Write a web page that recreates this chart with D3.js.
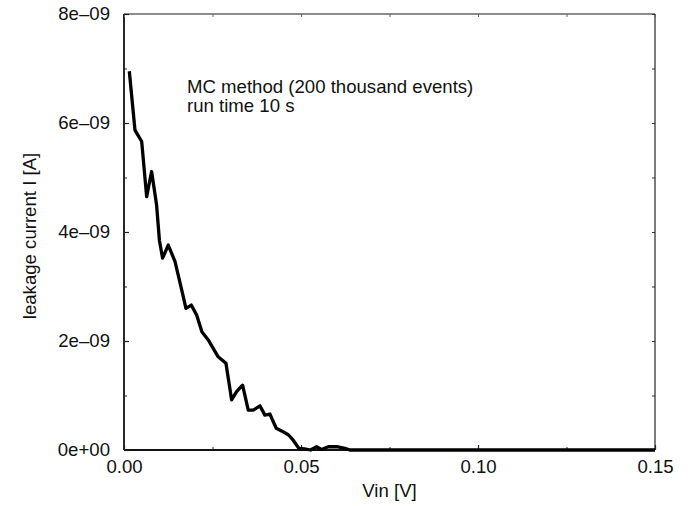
<!DOCTYPE html>
<html>
<head>
<meta charset="utf-8">
<script src="https://cdn.jsdelivr.net/npm/d3@7/dist/d3.min.js"></script>
<style>
  html, body { margin: 0; padding: 0; background: #fff; }
  svg { display: block; }
  text { font-family: "Liberation Sans", Arial, Helvetica, sans-serif; fill: #111; }
</style>
</head>
<body>
<svg id="chart" width="691" height="506"></svg>
<script>
// ---- data ----
const vin = [0.0015, 0.0031, 0.0050, 0.0064, 0.0078, 0.0092, 0.0100, 0.0109, 0.0125, 0.0144,
             0.0163, 0.0175, 0.0190, 0.0205, 0.0220, 0.0238, 0.0266, 0.0288, 0.0304, 0.0318,
             0.0335, 0.0351, 0.0365, 0.0384, 0.0398, 0.0412, 0.0430, 0.0445, 0.0464, 0.0478,
             0.0494, 0.0510, 0.0527, 0.0544, 0.0558, 0.0577, 0.0601, 0.0624, 0.0638, 0.0800,
             0.1000, 0.1200, 0.1500];
const leak = [6.95e-9, 5.87e-9, 5.66e-9, 4.65e-9, 5.11e-9, 4.50e-9, 3.85e-9, 3.52e-9, 3.76e-9, 3.46e-9,
              2.94e-9, 2.60e-9, 2.66e-9, 2.48e-9, 2.17e-9, 2.02e-9, 1.71e-9, 1.59e-9, 0.92e-9, 1.07e-9,
              1.19e-9, 0.73e-9, 0.73e-9, 0.81e-9, 0.64e-9, 0.66e-9, 0.40e-9, 0.35e-9, 0.28e-9, 0.18e-9,
              0.03e-9, 0.02e-9, 0.00e-9, 0.06e-9, 0.01e-9, 0.06e-9, 0.06e-9, 0.03e-9, 0.00e-9, 0.00e-9,
              0.00e-9, 0.00e-9, 0.00e-9];
const xTicks = [0, 0.05, 0.10, 0.15];
const xTickLabels = ["0.00", "0.05", "0.10", "0.15"];
const xMinor = [0.025, 0.075, 0.125];
const yTicks = [0, 2e-9, 4e-9, 6e-9, 8e-9];
const yTickLabels = ["0e+00", "2e\u201309", "4e\u201309", "6e\u201309", "8e\u201309"];
const yMinor = [1e-9, 3e-9, 5e-9, 7e-9];
const xTitle = "Vin [V]";
const yTitle = "leakage current I [A]";
const noteLines = ["MC method (200 thousand events)", "run time 10 s"];

// ---- layout ----
const L = 124, R = 655, T = 14, B = 450;
const svg = d3.select("#chart");
const x = d3.scaleLinear().domain([0, 0.15]).range([L, R]);
const y = d3.scaleLinear().domain([0, 8e-9]).range([B, T]);

const fs = "18.6px";

// frame: top and right lighter (as in scan), left and bottom dark
svg.append("line").attr("x1", L).attr("x2", R).attr("y1", T).attr("y2", T)
  .attr("stroke", "#666").attr("stroke-width", 1.3);
svg.append("line").attr("x1", R).attr("x2", R).attr("y1", T).attr("y2", B)
  .attr("stroke", "#444").attr("stroke-width", 1.4);
svg.append("line").attr("x1", L).attr("x2", L).attr("y1", T).attr("y2", B)
  .attr("stroke", "#111").attr("stroke-width", 1.8);
svg.append("line").attr("x1", L).attr("x2", R).attr("y1", B).attr("y2", B)
  .attr("stroke", "#111").attr("stroke-width", 1.8);

// bottom axis (inward ticks)
const xAxis = svg.append("g").attr("transform", `translate(0,${B})`)
  .call(d3.axisBottom(x).tickValues(xTicks).tickSize(-5).tickFormat((d, i) => xTickLabels[i]).tickSizeOuter(0));
xAxis.select(".domain").remove();
xAxis.selectAll(".tick line").attr("stroke", "#222").attr("stroke-width", 1.2);
xAxis.selectAll(".tick text").attr("y", 23).attr("dy", 0).style("font-size", fs).attr("fill", "#111");
const xAxisMinor = svg.append("g").attr("transform", `translate(0,${B})`)
  .call(d3.axisBottom(x).tickValues(xMinor).tickSize(-3).tickFormat(""));
xAxisMinor.select(".domain").remove();
xAxisMinor.selectAll(".tick line").attr("stroke", "#222");

// top axis ticks
const xTop = svg.append("g").attr("transform", `translate(0,${T})`)
  .call(d3.axisTop(x).tickValues(xTicks.concat(xMinor)).tickSize(-3).tickFormat(""));
xTop.select(".domain").remove();
xTop.selectAll(".tick line").attr("stroke", "#666");

// left axis
const yAxis = svg.append("g").attr("transform", `translate(${L},0)`)
  .call(d3.axisLeft(y).tickValues(yTicks).tickSize(-5).tickFormat((d, i) => yTickLabels[i]).tickSizeOuter(0));
yAxis.select(".domain").remove();
yAxis.selectAll(".tick line").attr("stroke", "#222").attr("stroke-width", 1.2);
yAxis.selectAll(".tick text").attr("x", -14).style("font-size", fs).attr("fill", "#111");
const yAxisMinor = svg.append("g").attr("transform", `translate(${L},0)`)
  .call(d3.axisLeft(y).tickValues(yMinor).tickSize(-3).tickFormat(""));
yAxisMinor.select(".domain").remove();
yAxisMinor.selectAll(".tick line").attr("stroke", "#222");

// right axis ticks
const yRight = svg.append("g").attr("transform", `translate(${R},0)`)
  .call(d3.axisRight(y).tickValues(yTicks.concat(yMinor)).tickSize(-3).tickFormat(""));
yRight.select(".domain").remove();
yRight.selectAll(".tick line").attr("stroke", "#333");

// titles
svg.append("text").attr("x", (L + R) / 2).attr("y", 497).attr("text-anchor", "middle")
  .style("font-size", fs).text(xTitle);
svg.append("text").attr("transform", `translate(36,${(T + B) / 2 + 4}) rotate(-90)`)
  .attr("text-anchor", "middle").style("font-size", fs).text(yTitle);

// annotation
const note = svg.append("text").attr("x", 187).attr("y", 93).style("font-size", fs);
noteLines.forEach((t, i) => note.append("tspan").attr("x", 187).attr("dy", i === 0 ? 0 : 19).text(t));

// curve
const pts = vin.map((v, i) => [v, leak[i]]);
svg.append("path").datum(pts)
  .attr("fill", "none").attr("stroke", "#000").attr("stroke-width", 3.3).attr("stroke-linejoin", "round")
  .attr("d", d3.line().x(d => x(d[0])).y(d => y(d[1])));
</script>
</body>
</html>
